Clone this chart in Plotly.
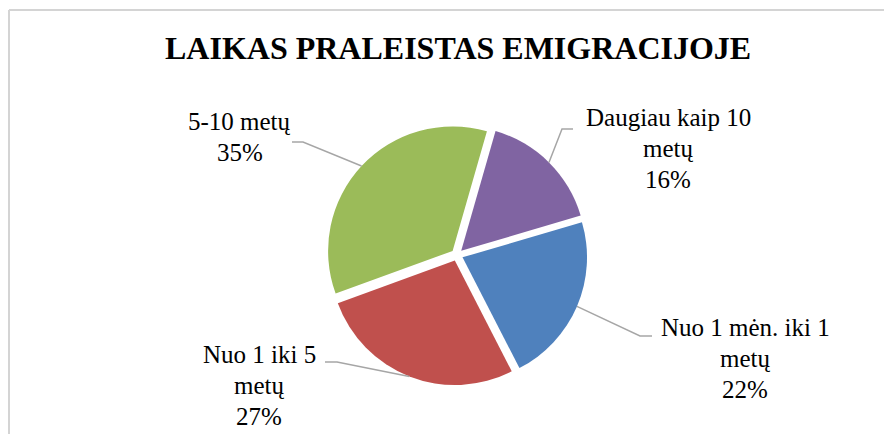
import math
import plotly.graph_objects as go

# ---- data ----
title = "LAIKAS PRALEISTAS EMIGRACIJOJE"
categories = ["Daugiau kaip 10 metų", "Nuo 1 mėn. iki 1 metų", "Nuo 1 iki 5 metų", "5-10 metų"]
label_lines = [["Daugiau kaip 10", "metų"], ["Nuo 1 mėn. iki 1", "metų"], ["Nuo 1 iki 5", "metų"], ["5-10 metų"]]
values = [16, 22, 27, 35]
colors = ["#8064A2", "#4F81BD", "#C0504D", "#9BBB59"]

# ---- layout geometry (reference-window pixels) ----
PAGE_OFF = 8          # default body margin of the html page
W, H = 892 - PAGE_OFF, 434 - PAGE_OFF
CX, CY = 457, 255
R = 124.5
PULL_PX = 6
PULL = PULL_PX / R
ROT = 16
BOX = R * (1 + PULL)
FONT = "Liberation Serif, Times New Roman, serif"
LINE_GAP = 31

label_pos = [(668, 148), (745, 358), (259, 385), (239.5, 137)]
# leader-line text-side points: (text end, elbow)
leader_text = [((573, 129), (562, 129)), ((652, 336), (640, 336)),
               ((325, 362), (337, 362)), ((292, 142), (303, 142))]


def px(x):
    return (x - PAGE_OFF) / W


def py(y):
    return 1 - (y - PAGE_OFF) / H


fig = go.Figure(go.Pie(
    labels=categories, values=values, sort=False, direction="clockwise",
    rotation=ROT, pull=[PULL] * len(values),
    marker=dict(colors=colors, line=dict(color="white", width=0)),
    textinfo="none", hoverinfo="label+percent",
    domain=dict(x=[px(CX - BOX), px(CX + BOX)], y=[py(CY + BOX), py(CY - BOX)]),
    showlegend=False,
))

total = sum(values)
annotations = [dict(text="<b>" + title + "</b>", x=px(458), y=py(48), xref="paper", yref="paper",
                    xanchor="center", yanchor="middle", showarrow=False,
                    font=dict(family=FONT, size=32, color="black"))]
shapes = []
cum = 0
for i, v in enumerate(values):
    mid = math.radians(ROT + 360 * (cum + v / 2) / total)
    cum += v
    rim = (CX + (R + PULL_PX) * math.sin(mid), CY - (R + PULL_PX) * math.cos(mid))
    pct = round(100 * v / total)
    lines = label_lines[i] + [f"{pct}%"]
    lx, ly = label_pos[i]
    n = len(lines)
    for k, line in enumerate(lines):
        yk = ly + (k - (n - 1) / 2) * LINE_GAP
        annotations.append(dict(text=line, x=px(lx), y=py(yk), xref="paper", yref="paper",
                                xanchor="center", yanchor="middle",
                                showarrow=False, align="center",
                                font=dict(family=FONT, size=25, color="black")))
    (t0, t1) = leader_text[i]
    pts = [t0, t1, rim]
    path = "M " + " L ".join(f"{px(a)},{py(b)}" for a, b in pts)
    shapes.append(dict(type="path", xref="paper", yref="paper", path=path,
                       line=dict(color="#a6a6a6", width=1.5)))

# outer chart border (left and top edges visible)
shapes.append(dict(type="line", xref="paper", yref="paper", x0=px(9), y0=py(10), x1=px(892), y1=py(10),
                   line=dict(color="#d4d4d4", width=2)))
shapes.append(dict(type="line", xref="paper", yref="paper", x0=px(9), y0=py(10), x1=px(9), y1=py(434),
                   line=dict(color="#d4d4d4", width=2)))

fig.update_layout(
    width=W, height=H, margin=dict(l=0, r=0, t=0, b=0),
    paper_bgcolor="white", plot_bgcolor="white",
    annotations=annotations, shapes=shapes,
)
fig.write_html("out.html")
